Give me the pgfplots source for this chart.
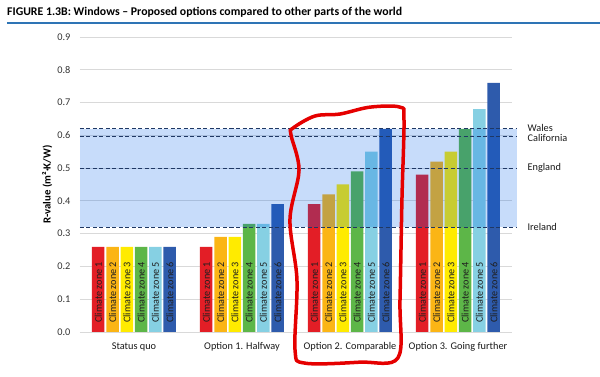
\documentclass[border=0pt]{standalone}
\usepackage{pgfplots}
\pgfplotsset{compat=1.18}
\usepackage{fontspec}
\setmainfont{Carlito}
\definecolor{zA}{HTML}{E31E26}
\definecolor{zB}{HTML}{FBB515}
\definecolor{zC}{HTML}{FFEB00}
\definecolor{zD}{HTML}{5DB648}
\definecolor{zE}{HTML}{86D0E3}
\definecolor{zF}{HTML}{2E5BAC}
\definecolor{bandc}{HTML}{005FE8}
\definecolor{navy}{HTML}{1F3864}
\definecolor{rulec}{HTML}{2E74B5}
\definecolor{gridc}{HTML}{D9D9D9}
\begin{document}
\begin{tikzpicture}[x=1pt,y=1pt]
\useasboundingbox (-80,-45) rectangle (520,332);
\node[anchor=west,font=\bfseries\fontsize{11.8}{13}\selectfont,inner sep=0] at (-73,320) {FIGURE 1.3B: Windows – Proposed options compared to other parts of the world};
\draw[rulec,line width=1.8pt] (-73,309) -- (520,309);
\begin{axis}[
  at={(0,0)}, anchor=south west,
  scale only axis, width=432pt, height=295pt,
  xmin=-0.5, xmax=3.5, ymin=0, ymax=0.9,
  clip=false,
  ybar=1.8pt, bar width=12.5pt,
  axis line style={draw=none},
  major tick length=0pt,
  ymajorgrids, grid style={gridc, line width=0.9pt},
  ytick={0,0.1,...,0.9},
  yticklabel style={/pgf/number format/fixed,/pgf/number format/precision=1,/pgf/number format/fixed zerofill,/pgf/number format/assume math mode=true,font=\fontsize{10.3}{12}\selectfont,text=black!80, xshift=-6pt},
  xtick={0,1,2,3},
  xticklabels={Status quo,Option 1. Halfway,Option 2. Comparable,Option 3. Going further},
  xticklabel style={font=\fontsize{10.3}{12}\selectfont,text=black!90,yshift=-7pt},
  ylabel={\bfseries R-value (m²·K/W)},
  ylabel style={at={(axis description cs:-0.076,0.5)},anchor=center,font=\fontsize{10.8}{12}\selectfont},
  nodes near coords style={font=\fontsize{10.2}{11}\selectfont,text=black!88,inner sep=0pt},
  visualization depends on=y \as \rawy,
  every node near coord/.append style={shift={(axis direction cs:0,-\rawy)},yshift=9pt,rotate=90,anchor=west},
]
\addplot[fill=zA,draw=none,nodes near coords={Climate zone 1}] coordinates {(0,0.26) (1,0.26) (2,0.39) (3,0.48)};
\addplot[fill=zB,draw=none,nodes near coords={Climate zone 2}] coordinates {(0,0.26) (1,0.29) (2,0.42) (3,0.52)};
\addplot[fill=zC,draw=none,nodes near coords={Climate zone 3}] coordinates {(0,0.26) (1,0.29) (2,0.45) (3,0.55)};
\addplot[fill=zD,draw=none,nodes near coords={Climate zone 4}] coordinates {(0,0.26) (1,0.33) (2,0.49) (3,0.62)};
\addplot[fill=zE,draw=none,nodes near coords={Climate zone 5}] coordinates {(0,0.26) (1,0.33) (2,0.55) (3,0.68)};
\addplot[fill=zF,draw=none,nodes near coords={Climate zone 6}] coordinates {(0,0.26) (1,0.39) (2,0.62) (3,0.76)};
\fill[bandc,fill opacity=0.22] (axis cs:-0.5,0.32) rectangle (axis cs:3.55,0.62);
\draw[navy,line width=0.8pt,dash pattern=on 4pt off 2.5pt] (axis cs:-0.5,0.62) -- (axis cs:3.55,0.62);
\draw[navy,line width=0.8pt,dash pattern=on 4pt off 2.5pt] (axis cs:-0.5,0.596) -- (axis cs:3.55,0.596);
\draw[navy,line width=0.8pt,dash pattern=on 4pt off 2.5pt] (axis cs:-0.5,0.50) -- (axis cs:3.55,0.50);
\draw[navy,line width=0.8pt,dash pattern=on 4pt off 2.5pt] (axis cs:-0.5,0.32) -- (axis cs:3.55,0.32);
\node[anchor=west,font=\fontsize{10.3}{12}\selectfont,inner sep=0pt,text=black!90,xshift=10pt,yshift=1pt] at (axis cs:3.55,0.62) {Wales};
\node[anchor=west,font=\fontsize{10.3}{12}\selectfont,inner sep=0pt,text=black!90,xshift=10pt,yshift=-1pt] at (axis cs:3.55,0.596) {California};
\node[anchor=west,font=\fontsize{10.3}{12}\selectfont,inner sep=0pt,text=black!90,xshift=10pt] at (axis cs:3.55,0.50) {England};
\node[anchor=west,font=\fontsize{10.3}{12}\selectfont,inner sep=0pt,text=black!90,xshift=10pt] at (axis cs:3.55,0.32) {Ireland};
\draw[red!90!black,line width=3.5pt] plot[smooth cycle,tension=0.55] coordinates {
 (axis cs:1.472,0.622) (axis cs:1.676,0.659) (axis cs:1.907,0.665) (axis cs:2.185,0.686) (axis cs:2.463,0.686)
 (axis cs:2.5,0.647) (axis cs:2.481,0.403) (axis cs:2.463,0.098) (axis cs:2.444,-0.079) (axis cs:2.093,-0.092)
 (axis cs:1.583,-0.095) (axis cs:1.491,-0.055) (axis cs:1.509,0.159) (axis cs:1.444,0.342) (axis cs:1.528,0.494) (axis cs:1.454,0.601)};
\end{axis}
\end{tikzpicture}
\end{document}
